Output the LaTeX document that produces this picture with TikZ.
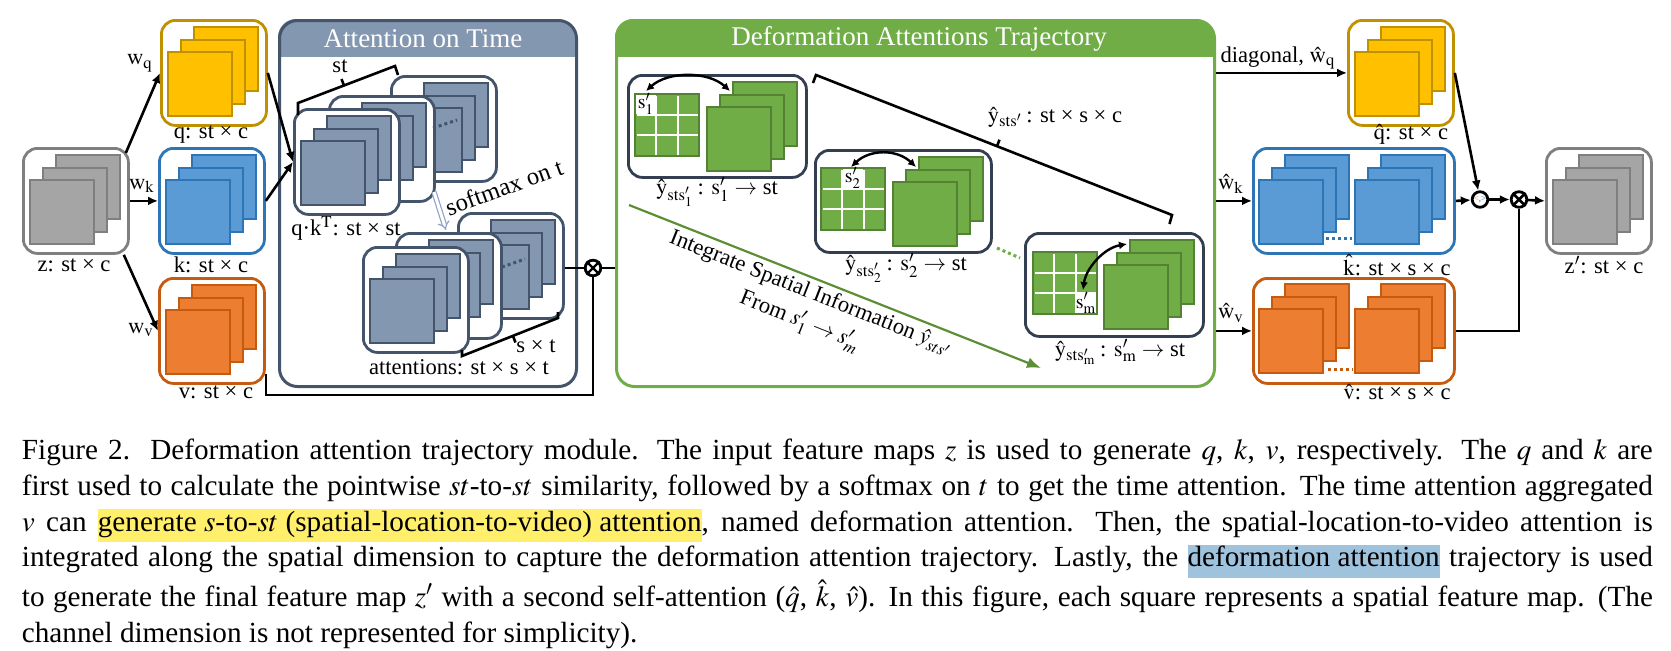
\documentclass[tikz,border=0pt]{standalone}
\usepackage{mathptmx}
\usepackage{amsmath}
\usepackage{fontspec}
\setmainfont{Liberation Serif}
\usetikzlibrary{arrows.meta}
\definecolor{gfill}{HTML}{A5A5A5}\definecolor{gline}{HTML}{7F7F7F}
\definecolor{yfill}{HTML}{FFC000}\definecolor{yline}{HTML}{BF9000}
\definecolor{bfill}{HTML}{5B9BD5}\definecolor{bline}{HTML}{2E75B6}
\definecolor{ofill}{HTML}{ED7D31}\definecolor{oline}{HTML}{C55A11}
\definecolor{sfill}{HTML}{8497B0}\definecolor{sline}{HTML}{44546A}
\definecolor{grfill}{HTML}{70AD47}\definecolor{grline}{HTML}{548235}
\definecolor{dslate}{HTML}{333F50}
\definecolor{garrow}{HTML}{5A8F35}
\definecolor{smcol}{HTML}{8FA3C1}
\definecolor{hlyel}{HTML}{FFEF6B}
\definecolor{hlblu}{HTML}{9FC2DD}
\newcommand{\stk}[3]{%
  \draw[#3] (#1+34,#2+8) rectangle ++(64,64);
  \draw[#3] (#1+21,#2+21) rectangle ++(64,64);
  \draw[#3] (#1+8,#2+33) rectangle ++(64,64);}
\newcommand{\grd}[2]{%
  \draw[grsq] (#1,#2) rectangle ++(64,62);
  \draw[white, line width=1pt] (#1+21.3,#2+1.5) -- ++(0,59) (#1+42.7,#2+1.5) -- ++(0,59)
     (#1+1.5,#2+20.7) -- ++(61,0) (#1+1.5,#2+41.3) -- ++(61,0);}
\newcommand{\hly}[1]{{\setlength{\fboxsep}{0pt}\colorbox{hlyel}{\rule[-5.5pt]{0pt}{16.5pt}#1}}}
\newcommand{\hlb}[1]{{\setlength{\fboxsep}{0pt}\colorbox{hlblu}{\rule[-5.5pt]{0pt}{16.5pt}#1}}}
\newcommand{\rmm}[1]{\mathrm{#1}}
\begin{document}
\begin{tikzpicture}[x=0.5pt,y=-0.5pt,
  lbl/.style={font=\fontsize{11.3}{13}\selectfont, inner sep=0pt},
  title/.style={font=\fontsize{13.5}{15}\selectfont, text=white, inner sep=0pt},
  sbox/.style={draw=#1, fill=white, rounded corners=7pt, line width=1.4pt, minimum width=52.5pt, minimum height=52.5pt, anchor=north west, inner sep=0pt},
  wbox/.style={draw=#1, fill=white, rounded corners=7pt, line width=1.4pt, minimum width=100.5pt, minimum height=52.5pt, anchor=north west, inner sep=0pt},
  ibox/.style={draw=dslate, fill=white, rounded corners=7pt, line width=1.4pt, anchor=north west, inner sep=0pt},
  bigbox/.style={draw=#1, line width=1.5pt, rounded corners=9pt, minimum height=183pt, anchor=north west, inner sep=0pt},
  gsq/.style={draw=gline, fill=gfill, line width=1.2pt},
  ysq/.style={draw=yline, fill=yfill, line width=1.2pt},
  bsq/.style={draw=bline, fill=bfill, line width=1.2pt},
  osq/.style={draw=oline, fill=ofill, line width=1.2pt},
  ssq/.style={draw=sline, fill=sfill, line width=1.2pt},
  grsq/.style={draw=grline, fill=grfill, line width=1.2pt},
  arr/.style={-{Latex[length=5pt,width=4.5pt]}, line width=1.3pt},
  ln/.style={line width=1.3pt},
  brk/.style={line width=1.3pt},
  carr/.style={{Latex[length=4pt,width=4pt]}-{Latex[length=4pt,width=4pt]}, line width=1.2pt},
  garr/.style={-{Latex[length=7pt,width=5.5pt]}, draw=garrow, line width=1.1pt},
  dotl/.style={draw=#1, line width=1.5pt, dash pattern=on 1.5pt off 1.5pt},
  circ/.style={circle, draw, fill=white, line width=1.4pt, minimum size=7.8pt, inner sep=0pt},
  dbl/.style={draw=smcol, double=white, double distance=1.5pt, line width=0.6pt, -{Implies}}
]
\useasboundingbox (0,0) rectangle (1671,650);

% ---------- inputs ----------
\node[sbox=gline] (z) at (22,147) {}; \stk{22}{147}{gsq}
\node[lbl] (zl) at (74,265) {z: st × c};
\node[sbox=yline] (q) at (160,19) {}; \stk{160}{19}{ysq}
\node[lbl] (ql) at (211,135) {q: st × c};
\node[sbox=bline] (k) at (158,147) {}; \stk{158}{147}{bsq}
\node[lbl] (kl) at (211,265) {k: st × c};
\node[sbox=oline] (v) at (158,277) {}; \stk{158}{277}{osq}
\node[lbl] (vl) at (216,392) {v: st × c};
\node[lbl] (wq) at (140,63) {$\rmm{w}_{\rmm{q}}$};
\node[lbl] (wk) at (142,186) {$\rmm{w}_{\rmm{k}}$};
\node[lbl] (wv) at (141,330) {$\rmm{w}_{\rmm{v}}$};
\draw[arr] ([xshift=-2pt,yshift=-3pt]z.north east) -- (q.west);
\draw[arr] (z.east) -- (k.west);
\draw[arr] ([xshift=-3pt]z.south east) -- (v.west);

% ---------- Attention on Time ----------
\begin{scope}
\clip (278,19) rectangle (575,56);
\fill[sfill, rounded corners=9pt] (278,19) rectangle (575,385);
\end{scope}
\node[bigbox=sline, minimum width=148.5pt] (aot) at (278,19) {};
\node[title] (aott) at (423,39) {Attention on Time};

\node[sbox=sline] (qkC) at (390,75) {}; \stk{390}{75}{ssq}
\node[sbox=sline] (qkB) at (328,95) {}; \stk{328}{95}{ssq}
\node[sbox=sline] (qkA) at (293,108) {}; \stk{293}{108}{ssq}
\draw[dotl=sline] (433,128) -- (457,120);
\draw[brk] (298,115) -- (298,103) -- (395,66) -- (398,75);
\draw[brk] (344,85.5) -- (341.5,79);
\node[lbl] (stl) at (340,66) {st};
\node[lbl] (qkl) at (346,228) {q·k$^{\rmm{T}}$: st × st};
\draw[arr] (q.east) -- (qkA.west);
\draw[arr] (k.east) -- (qkA.west);

\coordinate (sm1) at (434,192);
\coordinate (sm2) at (446,230);
\draw[dbl] (sm1) -- (sm2);
\node[font=\fontsize{12.3}{14}\selectfont, inner sep=0pt, rotate=20] (sml) at (504,187) {softmax on t};

\node[sbox=sline] (attC) at (457,212) {}; \stk{457}{212}{ssq}
\node[sbox=sline] (attB) at (395,232) {}; \stk{395}{232}{ssq}
\node[sbox=sline] (attA) at (362,246) {}; \stk{362}{246}{ssq}
\draw[dotl=sline] (502,267) -- (525,259);
\draw[brk] (462,350) -- (462,356) -- (558,318) -- (558,312);
\draw[brk] (513,336) -- (515.5,342.5);
\node[lbl] (stl2) at (536,346) {s × t};
\node[lbl] (attl) at (459,367) {attentions: st × s × t};

% ---------- Deformation Attentions Trajectory ----------
\begin{scope}
\clip (615,19) rectangle (1213,56);
\fill[grfill, rounded corners=9pt] (615,19) rectangle (1213,385);
\end{scope}
\node[bigbox=grfill, minimum width=299pt] (dat) at (615,19) {};
\node[title] (datt) at (919,39) {Deformation Attentions Trajectory};

\node[circ] (ot1) at (593,268) {};
\draw[line width=1.2pt] (ot1.north east) -- (ot1.south west) (ot1.north west) -- (ot1.south east);
\draw[ln] (attC.east |- ot1) -- (ot1);
\draw[ln] (ot1) -- (ot1 -| dat.west);
\draw[ln] ([yshift=-21.5pt]v.east) -- ++(0,21) -| (ot1);

% box 1
\node[ibox, minimum width=89pt, minimum height=51pt] (b1) at (627,74) {};
\grd{635}{94}
\fill[white] (636.2,95.2) rectangle (655.6,114);
\node[font=\fontsize{10}{11}\selectfont, inner sep=0pt] (s1) at (646,104) {$\rmm{s}'_1$};
\stk{699}{74}{grsq}
\draw[carr] (646,91) .. controls (668,71) and (708,71) .. (730,91);
\node[lbl] (y1) at (717,192) {$\hat{\rmm{y}}_{\rmm{sts}'_{1}}$\,: $\rmm{s}'_{1}\rightarrow$ st};

% box 2
\node[ibox, minimum width=88pt, minimum height=51pt] (b2) at (814,149) {};
\grd{821}{168}
\fill[white] (843,169.2) rectangle (863.2,188);
\node[font=\fontsize{10}{11}\selectfont, inner sep=0pt] (s2) at (853,178) {$\rmm{s}'_2$};
\stk{885}{149}{grsq}
\draw[carr] (851,167) .. controls (870,149) and (897,149) .. (916,167);
\node[lbl] (y2) at (906,268) {$\hat{\rmm{y}}_{\rmm{sts}'_{2}}$\,: $\rmm{s}'_{2}\rightarrow$ st};

% box 3
\node[ibox, minimum width=89pt, minimum height=51.5pt] (b3) at (1024,232) {};
\grd{1033}{252}
\fill[white] (1076.5,294) rectangle (1095.8,312.8);
\node[font=\fontsize{10}{11}\selectfont, inner sep=0pt] (s3) at (1086,303) {$\rmm{s}'_{\rmm{m}}$};
\stk{1096}{232}{grsq}
\draw[carr] (1083,290) .. controls (1086,268) and (1104,248) .. (1127,244);
\node[lbl] (y3) at (1120,352) {$\hat{\rmm{y}}_{\rmm{sts}'_{\rmm{m}}}$\,: $\rmm{s}'_{\rmm{m}}\rightarrow$ st};

\draw[dotl=grfill] (997,248) -- (1020,258);

\draw[brk] (813,83) -- (816,75) -- (1172,215) -- (1169.5,224);
\draw[brk] (997,146.2) -- (999.5,139.7);
\node[lbl] (yall) at (1055,117) {$\hat{\rmm{y}}_{\rmm{sts}'}$\,: st × s × c};

\coordinate (ia) at (629,205);
\coordinate (ib) at (1041,368);
\draw[garr] (ia) -- (ib);
\node[font=\fontsize{11.3}{15}\selectfont, inner sep=0pt, rotate=-21.6, align=center] (itg) at (805,308)
  {Integrate Spatial Information $\hat{y}_{sts'}$\\From $s'_1\rightarrow s'_m$};

% ---------- second attention ----------
\node[sbox=yline] (qh) at (1347,19) {}; \stk{1347}{19}{ysq}
\node[lbl] (qhl) at (1411,134) {$\hat{\rmm{q}}$: st × c};
\node[lbl] (diag) at (1278,58) {diagonal, $\hat{\rmm{w}}_{\rmm{q}}$};

\node[wbox=bline] (kh) at (1252,147) {}; \stk{1251}{147}{bsq} \stk{1347}{147}{bsq}
\draw[dotl=bline] (1326,238) -- (1352,238);
\node[lbl] (khl) at (1397,265) {$\hat{\rmm{k}}$: st × s × c};
\node[lbl] (wkh) at (1231,184) {$\hat{\rmm{w}}_{\rmm{k}}$};

\node[wbox=oline] (vh) at (1252,277) {}; \stk{1251}{276}{osq} \stk{1347}{276}{osq}
\draw[dotl=oline] (1328,369) -- (1353,369);
\node[lbl] (vhl) at (1397,392) {$\hat{\rmm{v}}$: st × s × c};
\node[lbl] (wvh) at (1231,313) {$\hat{\rmm{w}}_{\rmm{v}}$};

\node[circ] (ip) at (1480,199.5) {\fontsize{4.5}{4.5}\selectfont\textcolor{ofill}{<}\textcolor{bline}{,>}};
\node[circ] (ot2) at (1519,199.5) {};
\draw[line width=1.3pt] (ot2.north east) -- (ot2.south west) (ot2.north west) -- (ot2.south east);
\node[sbox=gline] (zp) at (1545,147) {}; \stk{1545}{147}{gsq}
\node[lbl] (zpl) at (1604,265) {z$'$: st × c};

\draw[arr] (dat.east |- qh.west) -- (qh.west);
\draw[arr] (dat.east |- kh.west) -- (kh.west);
\draw[arr] (dat.east |- vh.west) -- (vh.west);
\draw[arr] (qh.east) -- (ip);
\draw[arr] (kh.east) -- (ip);
\draw[arr] (ip) -- (ot2);
\draw[arr] (ot2) -- (zp.west);
\draw[ln] (vh.east) -| (ot2);

% ---------- caption ----------
\node[anchor=base west, inner sep=0pt] (cap) at (21.5,459.5) {\parbox[t]{815.5pt}{\fontsize{14.6}{17.9}\selectfont
\hbox to\linewidth{Figure 2.\ \ Deformation attention trajectory module.  The input feature maps $z$ is used to generate $q$, $k$, $v$, respectively.  The $q$ and $k$ are}
\hbox to\linewidth{first used to calculate the pointwise $st$-to-$st$ similarity, followed by a softmax on $t$ to get the time attention. The time attention aggregated}
\hbox to\linewidth{$v$ can \hly{generate $s$-to-$st$ (spatial-location-to-video) attention}, named deformation attention.  Then, the spatial-location-to-video attention is}
\hbox to\linewidth{integrated along the spatial dimension to capture the deformation attention trajectory. Lastly, the \hlb{deformation attention} trajectory is used}
\hbox to\linewidth{to generate the final feature map $z'$ with a second self-attention ($\hat{q}$, $\hat{k}$, $\hat{v}$). In this figure, each square represents a spatial feature map. (The}
\hbox{channel dimension is not represented for simplicity).}}};
\end{tikzpicture}
\end{document}
